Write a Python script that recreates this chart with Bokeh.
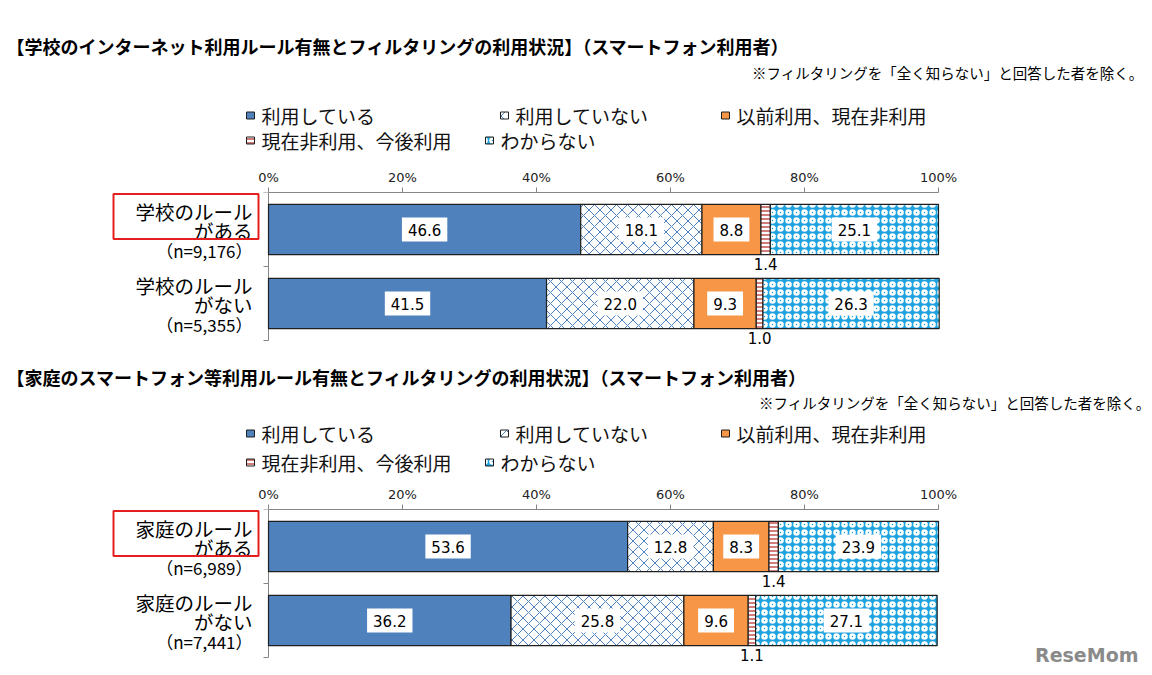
from bokeh.plotting import figure
from bokeh.models import Range1d, FixedTicker, ColumnDataSource
from bokeh.layouts import column
from bokeh.embed import file_html
from bokeh.resources import INLINE
from bokeh.core.properties import value

JP = "Noto Sans CJK JP"
NUM = "DejaVu Sans"

# ---------------- data ----------------
series_names = ["利用している", "利用していない", "以前利用、現在非利用", "現在非利用、今後利用", "わからない"]
tick_values = [0, 20, 40, 60, 80, 100]
tick_labels = ["0%", "20%", "40%", "60%", "80%", "100%"]

school_title = ["【学校のインターネット利用ルール有無とフィルタリングの利用状況】（スマートフォン利用者）"]
home_title = ["【家庭のスマートフォン等利用ルール有無とフィルタリングの利用状況】（スマートフォン利用者）"]
note_text = ["※フィルタリングを「全く知らない」と回答した者を除く。"]

school_cat_line1 = ["学校のルール", "学校のルール"]
school_cat_line2 = ["がある", "がない"]
school_n = ["（n=9,176）", "（n=5,355）"]
school_using = [46.6, 41.5]
school_not = [18.1, 22.0]
school_prev = [8.8, 9.3]
school_future = [1.4, 1.0]
school_unknown = [25.1, 26.3]

home_cat_line1 = ["家庭のルール", "家庭のルール"]
home_cat_line2 = ["がある", "がない"]
home_n = ["（n=6,989）", "（n=7,441）"]
home_using = [53.6, 36.2]
home_not = [12.8, 25.8]
home_prev = [8.3, 9.6]
home_future = [1.4, 1.1]
home_unknown = [23.9, 27.1]

cat_pos = [0.5, 1.5]          # category centres
cat_bounds = [0, 1, 2]        # category boundaries (axis ticks)
highlighted = [True, False]   # red frame round the label


# ---------------- styles ----------------
def make_styles(variant):
    # tiny colour variant per panel so that every SVG hatch pattern is unique
    blue = ["#4F81BD", "#4F81BE", "#4F82BD", "#4F82BE"][variant]
    red = ["#C0504D", "#C0504E", "#C0514D", "#C0514E"][variant]
    white = ["#FFFFFF", "#FFFFFE", "#FFFEFF", "#FEFFFF"][variant]
    return [
        dict(fill_color="#4F81BD"),
        dict(fill_color="white", hatch_pattern="diagonal_cross", hatch_color=blue, hatch_scale=11, hatch_weight=1),
        dict(fill_color="#F79646"),
        dict(fill_color="white", hatch_pattern="horizontal_line", hatch_color=red, hatch_scale=4, hatch_weight=1.5),
        dict(fill_color="#1FA3DF", hatch_pattern="ring", hatch_color=white, hatch_scale=8, hatch_weight=2.5),
    ]


BAR_LINE = dict(line_color="#1f1f1f", line_width=1.2)
BAR_H = 0.68
W = 1150
AXIS_C = "#868686"


def header(title, h, title_y, note_y, note_x, row1_y, row2_y, variant):
    styles = make_styles(variant)
    p = figure(frame_width=W, frame_height=h, min_border=0,
               x_range=Range1d(0, W), y_range=Range1d(h, 0),
               x_axis_location=None, y_axis_location=None,
               output_backend="svg", toolbar_location=None, outline_line_color=None)
    p.xgrid.visible = False
    p.ygrid.visible = False
    p.text(x=[6], y=[title_y], text=title, text_font=value(JP), text_font_size="18px",
           text_font_style="bold", text_baseline="middle", text_align="left", text_color="black")
    p.text(x=[note_x], y=[note_y], text=note_text, text_font=value(JP), text_font_size="14.5px",
           text_baseline="middle", text_align="right", text_color="black")
    # legend: marker + label for each series, laid out like the original (3 + 2 items)
    leg_x = [250, 504, 725, 250, 489]
    leg_y = [row1_y, row1_y, row1_y, row2_y, row2_y]
    for name, st, lx, ly in zip(series_names, styles, leg_x, leg_y):
        p.rect(x=[lx], y=[ly], width=8, height=7, width_units="screen", height_units="screen",
               line_color="#1f1f1f", line_width=1, **st)
        p.text(x=[lx + 11], y=[ly], text=[name], text_font=value(JP), text_font_size="19px",
               text_baseline="middle", text_align="left", text_color="#111111")
    return p


def chart(line1, line2, n_labels, series, x0, px, top, frame_h, band, variant, watermark=False):
    styles = make_styles(variant)
    height_units = frame_h / band
    p = figure(frame_width=W, frame_height=frame_h, min_border_left=0, min_border_right=0,
               min_border_top=top, min_border_bottom=0,
               x_range=Range1d(-x0 / px, (W - x0) / px), y_range=Range1d(height_units, 0),
               x_axis_location="above", y_axis_location=None,
               output_backend="svg", toolbar_location=None, outline_line_color=None)
    p.xgrid.visible = False
    p.ygrid.visible = False

    xa = p.xaxis[0]
    xa.bounds = (0, 100)
    xa.ticker = FixedTicker(ticks=tick_values)
    xa.major_label_overrides = {t: l for t, l in zip(tick_values, tick_labels)}
    xa.major_tick_in = 0
    xa.major_tick_out = 5
    xa.minor_tick_line_color = None
    xa.axis_line_color = AXIS_C
    xa.major_tick_line_color = AXIS_C
    xa.major_label_text_font = NUM
    xa.major_label_text_font_size = "13px"
    xa.major_label_text_color = "#222222"
    xa.major_label_standoff = 3

    # category axis (vertical line with boundary ticks)
    tick_len = 5 / px
    p.segment(x0=[0], y0=[cat_bounds[0]], x1=[0], y1=[cat_bounds[-1]], line_color=AXIS_C, line_width=1)
    p.segment(x0=[-tick_len] * len(cat_bounds), y0=cat_bounds, x1=[0] * len(cat_bounds), y1=cat_bounds,
              line_color=AXIS_C, line_width=1)

    left = [0.0, 0.0]
    for k, (vals, st) in enumerate(zip(series, styles)):
        right = [l + v for l, v in zip(left, vals)]
        src = ColumnDataSource(dict(
            y=cat_pos, left=left, right=right,
            mid=[(l + r) / 2 for l, r in zip(left, right)],
            below=[c + BAR_H / 2 for c in cat_pos],
            lab=[f"{v:.1f}" for v in vals]))
        p.hbar(y="y", left="left", right="right", height=BAR_H, source=src, **BAR_LINE, **st)
        if k == 3:
            p.text(x="mid", y="below", text="lab", source=src, text_align="center", text_baseline="top",
                   y_offset=3, text_font=value(NUM), text_font_size="15px", text_color="black")
        else:
            p.text(x="mid", y="y", text="lab", source=src, text_align="center", text_baseline="middle",
                   text_font=value(NUM), text_font_size="15px", text_color="black",
                   background_fill_color="white", padding=6)
        left = right

    # category labels (three lines, right aligned left of the axis)
    lab_src = ColumnDataSource(dict(x=[0] * len(cat_pos), y=cat_pos, l1=line1, l2=line2, n=n_labels))
    common = dict(source=lab_src, x_offset=-16, text_font=value(JP), text_align="right",
                  text_baseline="middle", text_color="black")
    p.text(x="x", y="y", text="l1", y_offset=-18, text_font_size="19.5px", **common)
    p.text(x="x", y="y", text="l2", y_offset=1, text_font_size="19.5px", **common)
    p.text(x="x", y="y", text="n", y_offset=21, text_font_size="17px", **common)
    # red frame round the highlighted label
    box_x = (185.5 - x0) / px
    hy = [c - 13 / band for c, hl in zip(cat_pos, highlighted) if hl]
    p.rect(x=[box_x] * len(hy), y=hy, width=145, height=45, width_units="screen", height_units="screen",
           fill_color=None, line_color="#E41E1E", line_width=2)

    if watermark:
        p.text(x=[(W - 12 - x0) / px], y=[cat_bounds[-1]], text=["ReseMom"], y_offset=8,
               text_font=value("DejaVu Sans"), text_font_size="19px", text_font_style="bold",
               text_align="right", text_baseline="bottom", text_color="#8a8a8a")
    return p


h1 = header(school_title, 160, 45, 72, 1143, 115, 140, variant=0)
c1 = chart(school_cat_line1, school_cat_line2, school_n,
           [school_using, school_not, school_prev, school_future, school_unknown],
           x0=268, px=6.70, top=32, frame_h=161, band=74.0, variant=1)
h2 = header(home_title, 127, 23, 49, 1150, 80, 109, variant=2)
c2 = chart(home_cat_line1, home_cat_line2, home_n,
           [home_using, home_not, home_prev, home_future, home_unknown],
           x0=268, px=6.70, top=29, frame_h=166, band=74.0, variant=3, watermark=True)

layout = column(h1, c1, h2, c2, spacing=0)
open("out.html", "w").write(file_html(layout, INLINE))
